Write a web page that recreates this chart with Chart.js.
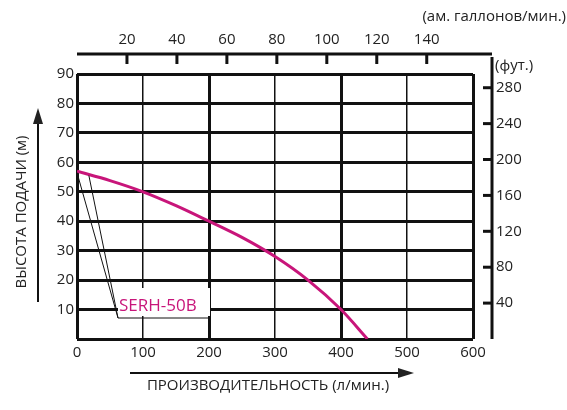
<!DOCTYPE html>
<html>
<head>
<meta charset="utf-8">
<script src="https://cdn.jsdelivr.net/npm/chart.js@4"></script>
<style>
  body { margin: 0; background: #fff; }
  #wrap { width: 567px; height: 410px; }
</style>
</head>
<body>
<div id="wrap"><canvas id="chart"></canvas></div>
<script>
// curve SERH-50B: flow (l/min) vs head (m)
const flow = [0, 50, 100, 150, 200, 250, 300, 350, 400, 440];
const head = [57, 53.8, 50, 45.3, 40, 34.5, 28, 20, 10, 0];
const galTicks = [20, 40, 60, 80, 100, 120, 140];
const ftTicks = [40, 80, 120, 160, 200, 240, 280];
const seriesName = 'SERH-50B';
const FONT = '"Open Sans", "DejaVu Sans", sans-serif';

const extras = {
  id: 'extras',
  afterDraw(c) {
    const g = c.ctx, a = c.chartArea;
    const xg = c.scales.xGal, yf = c.scales.yFt, x = c.scales.x, y = c.scales.y;
    g.save();
    g.strokeStyle = '#111'; g.fillStyle = '#222';
    g.font = '15px ' + FONT;
    // top gallon axis
    const topY = 54;
    g.lineWidth = 3;
    g.beginPath(); g.moveTo(a.left, topY); g.lineTo(492, topY); g.stroke();
    g.textAlign = 'center'; g.textBaseline = 'bottom';
    galTicks.forEach(v => {
      const px = xg.getPixelForValue(v);
      g.beginPath(); g.moveTo(px, topY); g.lineTo(px, topY + 10); g.stroke();
      g.fillText(v, px, topY - 7);
    });
    g.textAlign = 'right';
    g.fillText('(ам. галлонов/мин.)', 566, 24);
    // right feet axis
    const rx = 492;
    g.beginPath(); g.moveTo(rx, 57); g.lineTo(rx, a.bottom); g.stroke();
    g.textAlign = 'left'; g.textBaseline = 'middle';
    ftTicks.forEach(v => {
      const py = yf.getPixelForValue(v);
      g.beginPath(); g.moveTo(rx - 9, py); g.lineTo(rx, py); g.stroke();
      g.fillText(v, rx + 4, py);
    });
    g.fillText('(фут.)', rx + 3, 66);
    // axis titles with arrows
    g.lineWidth = 2;
    g.beginPath(); g.moveTo(38, 302); g.lineTo(38, 122); g.stroke();
    g.beginPath(); g.moveTo(33, 124); g.lineTo(38, 108); g.lineTo(43, 124); g.closePath(); g.fill();
    g.beginPath(); g.moveTo(130, 373); g.lineTo(400, 373); g.stroke();
    g.beginPath(); g.moveTo(398, 368); g.lineTo(414, 373); g.lineTo(398, 378); g.closePath(); g.fill();
    g.textAlign = 'center'; g.textBaseline = 'middle';
    g.fillText('ПРОИЗВОДИТЕЛЬНОСТЬ (л/мин.)', 268, 386);
    g.save(); g.translate(22, 212); g.rotate(-Math.PI / 2);
    g.fillText('ВЫСОТА ПОДАЧИ (м)', 0, 0); g.restore();
    // series label with leader lines
    const lx = 118, ly = 318;
    g.fillStyle = '#fff';
    g.fillRect(lx, 288, 92, 28);
    g.strokeStyle = '#111'; g.lineWidth = 1;
    g.beginPath();
    g.moveTo(x.getPixelForValue(0), y.getPixelForValue(56.5));
    g.lineTo(lx, ly);
    g.moveTo(x.getPixelForValue(18), y.getPixelForValue(55.5));
    g.lineTo(lx, ly); g.lineTo(208, ly);
    g.stroke();
    g.fillStyle = '#c8157a';
    g.font = '17px ' + FONT;
    g.textAlign = 'left'; g.textBaseline = 'alphabetic';
    g.fillText(seriesName, lx + 1, 311);
    g.restore();
  }
};

new Chart(document.getElementById('chart'), {
  type: 'line',
  data: {
    datasets: [{
      label: seriesName,
      data: flow.map((f, i) => ({ x: f, y: head[i] })),
      borderColor: '#c8157a',
      borderWidth: 3,
      pointRadius: 0,
      tension: 0.4,
      cubicInterpolationMode: 'monotone'
    }]
  },
  options: {
    responsive: true,
    maintainAspectRatio: false,
    animation: false,
    layout: { padding: { top: 74, right: 94, left: 0, bottom: 0 } },
    plugins: { legend: { display: false }, tooltip: { enabled: false } },
    scales: {
      x: {
        type: 'linear', min: 0, max: 600,
        afterFit: s => { s.height = 71; },
        border: { display: false },
        grid: {
          drawTicks: false, color: '#111',
          lineWidth: ctx => (ctx.tick.value % 200 === 0 ? 3 : 1.5)
        },
        ticks: { stepSize: 100, color: '#222', font: { size: 15, family: FONT }, padding: 5 }
      },
      y: {
        min: 0, max: 90,
        afterFit: s => { s.width = 77; },
        border: { display: false },
        grid: { drawTicks: false, color: '#111', lineWidth: 3 },
        ticks: {
          stepSize: 10, color: '#222', font: { size: 15, family: FONT }, padding: 3,
          callback: v => (v === 0 ? '' : v)
        }
      },
      xGal: { type: 'linear', display: false, min: 0, max: 600 / 3.785 },
      yFt: { type: 'linear', display: false, min: 0, max: 90 * 3.281 }
    }
  },
  plugins: [extras]
});
</script>
</body>
</html>
